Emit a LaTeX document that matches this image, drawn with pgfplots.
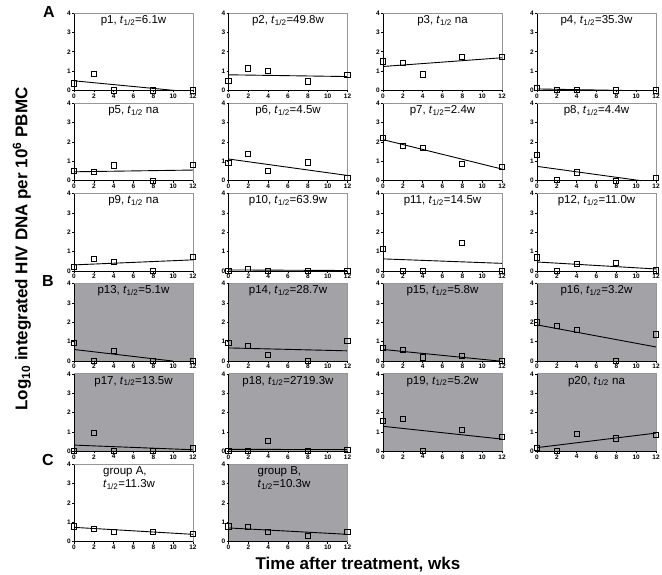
\documentclass[border=0pt]{standalone}
\usepackage{pgfplots}
\pgfplotsset{compat=1.18}
\usepackage{fontspec}
\setmainfont{Liberation Sans}
\definecolor{panelgray}{RGB}{162,162,167}
\definecolor{framegray}{RGB}{150,150,150}
\pgfplotsset{
  panel/.style={
    scale only axis, width=119pt, height=77.5pt, anchor=south west,
    xmin=0, xmax=12, ymin=0, ymax=4,
    xtick={0,2,...,12}, ytick={0,1,2,3,4},
    axis x line*=bottom, axis y line*=left,
    axis line style={black, line width=0.8pt},
    tick align=outside, major tick length=2pt,
    tick style={black, line width=0.5pt},
    ticklabel style={font=\fontsize{6.5}{6.5}\selectfont\bfseries, inner sep=1pt},
    /pgf/number format/assume math mode=true,
    clip=false,
  },
  wpanel/.style={panel},
  gpanel/.style={panel, axis background/.style={fill=panelgray}},
  pts/.style={only marks, mark=square, mark size=2.6pt, mark options={solid, black, line width=0.9pt, fill=none}},
  fit/.style={black, line width=0.9pt, mark=none},
}
\newcommand{\thalf}{\textit{t}\textsubscript{1/2}}
% panel title plus the grey top/right frame
\newcommand{\ptitle}[1]{%
  \draw[framegray, line width=0.8pt] (rel axis cs:0,1) -- (rel axis cs:1,1) -- (rel axis cs:1,0);
  \node[anchor=north, inner sep=1pt, font=\fontsize{11.5}{13}\selectfont] at (rel axis cs:0.5,0.985) {#1};}
\newcommand{\gtitle}[1]{%
  \draw[framegray, line width=0.8pt] (rel axis cs:0,1) -- (rel axis cs:1,1) -- (rel axis cs:1,0);
  \node[anchor=north west, align=left, inner sep=1pt, font=\fontsize{11.5}{13.5}\selectfont] at (rel axis cs:0.235,0.985) {#1};}
\begin{document}
\begin{tikzpicture}
\path[use as bounding box] (0,0) rectangle (662pt,-575pt);

% ---- row 1
\begin{axis}[wpanel, at={(74pt,-90.5pt)}]
\addplot[pts] coordinates {(0,0.36) (2,0.84) (4,0) (8,0) (12,0)};
\addplot[fit] coordinates {(0,0.50) (10.2,0)};
\ptitle{p1, \thalf=6.1w}
\end{axis}
\begin{axis}[wpanel, at={(228.5pt,-90.5pt)}]
\addplot[pts] coordinates {(0,0.48) (2,1.14) (4,1.0) (8,0.47) (12,0.81)};
\addplot[fit] coordinates {(0,0.81) (12,0.72)};
\ptitle{p2, \thalf=49.8w}
\end{axis}
\begin{axis}[wpanel, at={(383pt,-90.5pt)}]
\addplot[pts] coordinates {(0,1.50) (2,1.41) (4,0.83) (8,1.72) (12,1.74)};
\addplot[fit] coordinates {(0,1.24) (12,1.69)};
\ptitle{p3, \thalf\ na}
\end{axis}
\begin{axis}[wpanel, at={(537pt,-90.5pt)}]
\addplot[pts] coordinates {(0,0.14) (2,0.02) (4,0.02) (8,0) (12,0)};
\addplot[fit] coordinates {(0,0.08) (8.9,0)};
\ptitle{p4, \thalf=35.3w}
\end{axis}

% ---- row 2
\begin{axis}[wpanel, at={(74pt,-180.7pt)}]
\addplot[pts] coordinates {(0,0.52) (2,0.45) (4,0.79) (8,0) (12,0.82)};
\addplot[fit] coordinates {(0,0.46) (12,0.55)};
\ptitle{p5, \thalf\ na}
\end{axis}
\begin{axis}[wpanel, at={(228.5pt,-180.7pt)}]
\addplot[pts] coordinates {(0,0.91) (2,1.39) (4,0.52) (8,0.94) (12,0.15)};
\addplot[fit] coordinates {(0,1.12) (12,0.27)};
\ptitle{p6, \thalf=4.5w}
\end{axis}
\begin{axis}[wpanel, at={(383pt,-180.7pt)}]
\addplot[pts] coordinates {(0,2.19) (2,1.78) (4,1.71) (8,0.88) (12,0.72)};
\addplot[fit] coordinates {(0,2.12) (12,0.60)};
\ptitle{p7, \thalf=2.4w}
\end{axis}
\begin{axis}[wpanel, at={(537pt,-180.7pt)}]
\addplot[pts] coordinates {(0,1.31) (2,0.03) (4,0.43) (8,0) (12,0.14)};
\addplot[fit] coordinates {(0,0.74) (10.5,0)};
\ptitle{p8, \thalf=4.4w}
\end{axis}

% ---- row 3
\begin{axis}[wpanel, at={(74pt,-270.9pt)}]
\addplot[pts] coordinates {(0,0.19) (2,0.62) (4,0.48) (8,0) (12,0.72)};
\addplot[fit] coordinates {(0,0.31) (12,0.57)};
\ptitle{p9, \thalf\ na}
\end{axis}
\begin{axis}[wpanel, at={(228.5pt,-270.9pt)}]
\addplot[pts] coordinates {(0,0) (2,0.12) (4,0) (8,0) (12,0)};
\addplot[fit] coordinates {(0,0.05) (12,0.02)};
\ptitle{p10, \thalf=63.9w}
\end{axis}
\begin{axis}[wpanel, at={(383pt,-270.9pt)}]
\addplot[pts] coordinates {(0,1.15) (2,0) (4,0) (8,1.44) (12,0)};
\addplot[fit] coordinates {(0,0.62) (12,0.39)};
\ptitle{p11, \thalf=14.5w}
\end{axis}
\begin{axis}[wpanel, at={(537pt,-270.9pt)}]
\addplot[pts] coordinates {(0,0.69) (2,0) (4,0.36) (8,0.43) (12,0.02)};
\addplot[fit] coordinates {(0,0.46) (12,0.10)};
\ptitle{p12, \thalf=11.0w}
\end{axis}

% ---- row 4
\begin{axis}[gpanel, at={(74pt,-361.1pt)}]
\addplot[pts] coordinates {(0,0.94) (2,0) (4,0.54) (8,0) (12,0)};
\addplot[fit] coordinates {(0,0.60) (10,0)};
\ptitle{p13, \thalf=5.1w}
\end{axis}
\begin{axis}[gpanel, at={(228.5pt,-361.1pt)}]
\addplot[pts] coordinates {(0,0.95) (2,0.80) (4,0.31) (8,0) (12,1.02)};
\addplot[fit] coordinates {(0,0.68) (12,0.53)};
\ptitle{p14, \thalf=28.7w}
\end{axis}
\begin{axis}[gpanel, at={(383pt,-361.1pt)}]
\addplot[pts] coordinates {(0,0.68) (2,0.56) (4,0.19) (8,0.26) (12,0)};
\addplot[fit] coordinates {(0,0.60) (11.8,0)};
\ptitle{p15, \thalf=5.8w}
\end{axis}
\begin{axis}[gpanel, at={(537pt,-361.1pt)}]
\addplot[pts] coordinates {(0,1.99) (2,1.82) (4,1.62) (8,0) (12,1.38)};
\addplot[fit] coordinates {(0,1.87) (12,0.73)};
\ptitle{p16, \thalf=3.2w}
\end{axis}

% ---- row 5
\begin{axis}[gpanel, at={(74pt,-451.3pt)}]
\addplot[pts] coordinates {(0,0) (2,0.95) (4,0) (8,0) (12,0.15)};
\addplot[fit] coordinates {(0,0.32) (12,0.08)};
\ptitle{p17, \thalf=13.5w}
\end{axis}
\begin{axis}[gpanel, at={(228.5pt,-451.3pt)}]
\addplot[pts] coordinates {(0,0) (2,0) (4,0.54) (8,0) (12,0.09)};
\addplot[fit] coordinates {(0,0.10) (12,0.09)};
\ptitle{p18, \thalf=2719.3w}
\end{axis}
\begin{axis}[gpanel, at={(383pt,-451.3pt)}]
\addplot[pts] coordinates {(0,1.58) (2,1.67) (4,0) (8,1.12) (12,0.73)};
\addplot[fit] coordinates {(0,1.29) (12,0.63)};
\ptitle{p19, \thalf=5.2w}
\end{axis}
\begin{axis}[gpanel, at={(537pt,-451.3pt)}]
\addplot[pts] coordinates {(0,0.17) (2,0) (4,0.90) (8,0.66) (12,0.85)};
\addplot[fit] coordinates {(0,0.19) (12,0.94)};
\ptitle{p20, \thalf\ na}
\end{axis}

% ---- row 6 (groups)
\begin{axis}[wpanel, at={(74pt,-541.5pt)}]
\addplot[pts] coordinates {(0,0.78) (2,0.65) (4,0.51) (8,0.48) (12,0.41)};
\addplot[fit] coordinates {(0,0.73) (12,0.37)};
\gtitle{group A,\\\thalf=11.3w}
\end{axis}
\begin{axis}[gpanel, at={(228.5pt,-541.5pt)}]
\addplot[pts] coordinates {(0,0.78) (2,0.75) (4,0.51) (8,0.27) (12,0.51)};
\addplot[fit] coordinates {(0,0.70) (12,0.37)};
\gtitle{group B,\\\thalf=10.3w}
\end{axis}

% ---- labels
\node[font=\fontsize{16}{16}\selectfont\bfseries] at (49pt,-12pt) {A};
\node[font=\fontsize{16}{16}\selectfont\bfseries] at (48pt,-281pt) {B};
\node[font=\fontsize{16}{16}\selectfont\bfseries] at (48pt,-460pt) {C};
\node[rotate=90, font=\fontsize{17}{17}\selectfont\bfseries] at (22pt,-249pt)
  {Log\textsubscript{10} integrated HIV DNA per 10\textsuperscript{6} PBMC};
\node[font=\fontsize{17}{17}\selectfont\bfseries] at (358pt,-565pt) {Time after treatment, wks};
\end{tikzpicture}
\end{document}
